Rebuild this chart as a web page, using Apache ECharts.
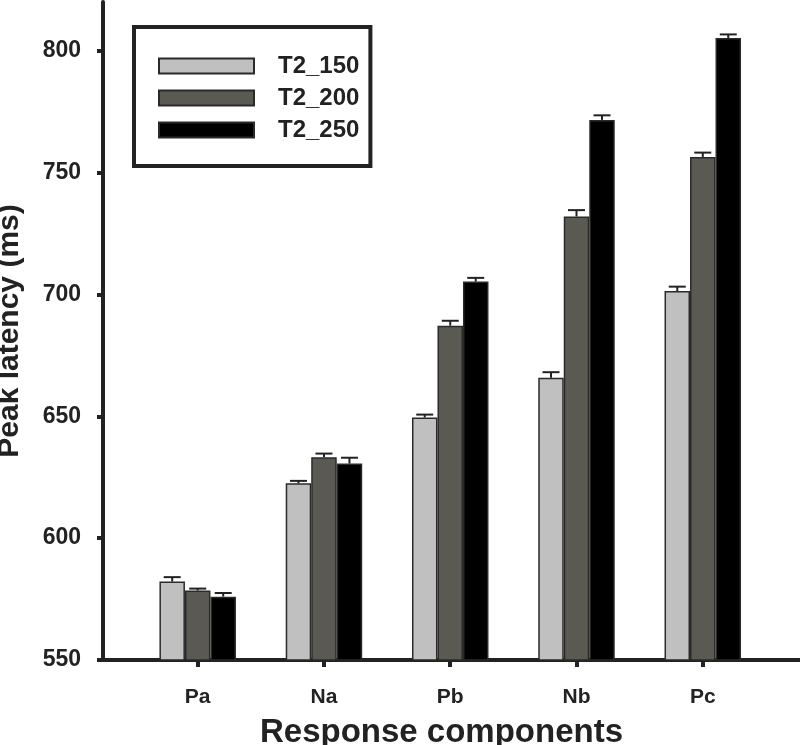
<!DOCTYPE html>
<html>
<head>
<meta charset="utf-8">
<script src="https://cdn.jsdelivr.net/npm/echarts@6/dist/echarts.min.js"></script>
<style>
html,body{margin:0;padding:0;background:#fff;}
#chart{width:800px;height:745px;}
</style>
</head>
<body>
<div id="chart"></div>
<script>
const categories = ['Pa', 'Na', 'Pb', 'Nb', 'Pc'];
const seriesNames = ['T2_150', 'T2_200', 'T2_250'];
const t150 = [582.2, 622.5, 649.5, 665.8, 701.4];
const t200 = [578.5, 633.2, 687.2, 732.0, 756.4];
const t250 = [576.0, 630.6, 705.3, 771.6, 805.2];
const err150 = [1.8, 1.0, 1.2, 2.3, 1.8];
const err200 = [0.8, 1.5, 2.0, 2.6, 1.8];
const err250 = [1.5, 2.4, 1.5, 1.9, 1.5];
const yTicks = [550, 600, 650, 700, 750, 800];
const xTicks = [1, 2, 3, 4, 5];

const colors = ['#c0c0c0', '#5a5a52', '#000000'];
const values = [t150, t200, t250];
const errors = [err150, err200, err250];
const BAR_W = 25.5;
const FONT = 'Liberation Sans, Arial, sans-serif';

const barSeries = values.map((vals, i) => ({
  name: seriesNames[i],
  type: 'bar',
  barWidth: BAR_W,
  barGap: '0%',
  itemStyle: { color: colors[i], borderColor: '#2a2a2a', borderWidth: 1.5 },
  data: vals.map((v, k) => [xTicks[k], v]),
  z: 2
}));

const errSeries = errors.map((errs, i) => ({
  name: 'err_' + seriesNames[i],
  type: 'custom',
  z: 3,
  clip: false,
  data: errs.map((e, k) => [xTicks[k], values[i][k], e]),
  renderItem: function (params, api) {
    const x = api.value(0), y = api.value(1), e = api.value(2);
    const base = api.coord([x, y]);
    const top = api.coord([x, y + e]);
    const px = base[0] + (i - 1) * BAR_W;
    const st = { stroke: '#222', lineWidth: 2 };
    return {
      type: 'group',
      children: [
        { type: 'line', shape: { x1: px, y1: base[1], x2: px, y2: top[1] }, style: st },
        { type: 'line', shape: { x1: px - 8.5, y1: top[1], x2: px + 8.5, y2: top[1] }, style: st }
      ]
    };
  }
}));

const chart = echarts.init(document.getElementById('chart'));
chart.setOption({
  animation: false,
  backgroundColor: '#fff',
  textStyle: { fontFamily: FONT },
  grid: { left: 103, right: 0, top: 2, bottom: 85, outerBoundsMode: 'none', containLabel: false },
  legend: {
    data: seriesNames,
    icon: 'rect',
    orient: 'vertical',
    left: 134,
    top: 27,
    itemWidth: 95,
    itemHeight: 15,
    itemGap: 8,
    padding: [27, 11, 24, 24],
    borderColor: '#222',
    borderWidth: 4,
    backgroundColor: '#fff',
    textStyle: { fontFamily: FONT, fontWeight: 'bold', fontSize: 24, color: '#222', padding: [0, 0, 0, 19] }
  },
  xAxis: {
    type: 'value',
    min: 0.25,
    max: 5.77,
    splitLine: { show: false },
    axisLine: { show: true, onZero: false, lineStyle: { color: '#222', width: 4 } },
    axisTick: { show: true, customValues: xTicks, length: 7, lineStyle: { color: '#222', width: 4 } },
    axisLabel: {
      customValues: xTicks,
      formatter: v => categories[Math.round(v) - 1] || '',
      margin: 27,
      fontFamily: FONT, fontWeight: 'bold', fontSize: 21, color: '#222'
    },
    name: 'Response components',
    nameLocation: 'middle',
    nameGap: 56,
    nameTextStyle: { fontFamily: FONT, fontWeight: 'bold', fontSize: 33, color: '#222', padding: [0, 20, 0, 0] }
  },
  yAxis: {
    type: 'value',
    min: 550,
    max: 820,
    interval: 50,
    splitLine: { show: false },
    axisLine: { show: true, lineStyle: { color: '#222', width: 4 } },
    axisTick: { show: true, customValues: yTicks, length: 6, lineStyle: { color: '#222', width: 4 } },
    axisLabel: {
      customValues: yTicks,
      margin: 22,
      fontFamily: FONT, fontWeight: 'bold', fontSize: 23, color: '#222'
    },
    name: 'Peak latency (ms)',
    nameLocation: 'middle',
    nameGap: 78,
    nameTextStyle: { fontFamily: FONT, fontWeight: 'bold', fontSize: 30, color: '#222' }
  },
  series: barSeries.concat(errSeries)
});
</script>
</body>
</html>
